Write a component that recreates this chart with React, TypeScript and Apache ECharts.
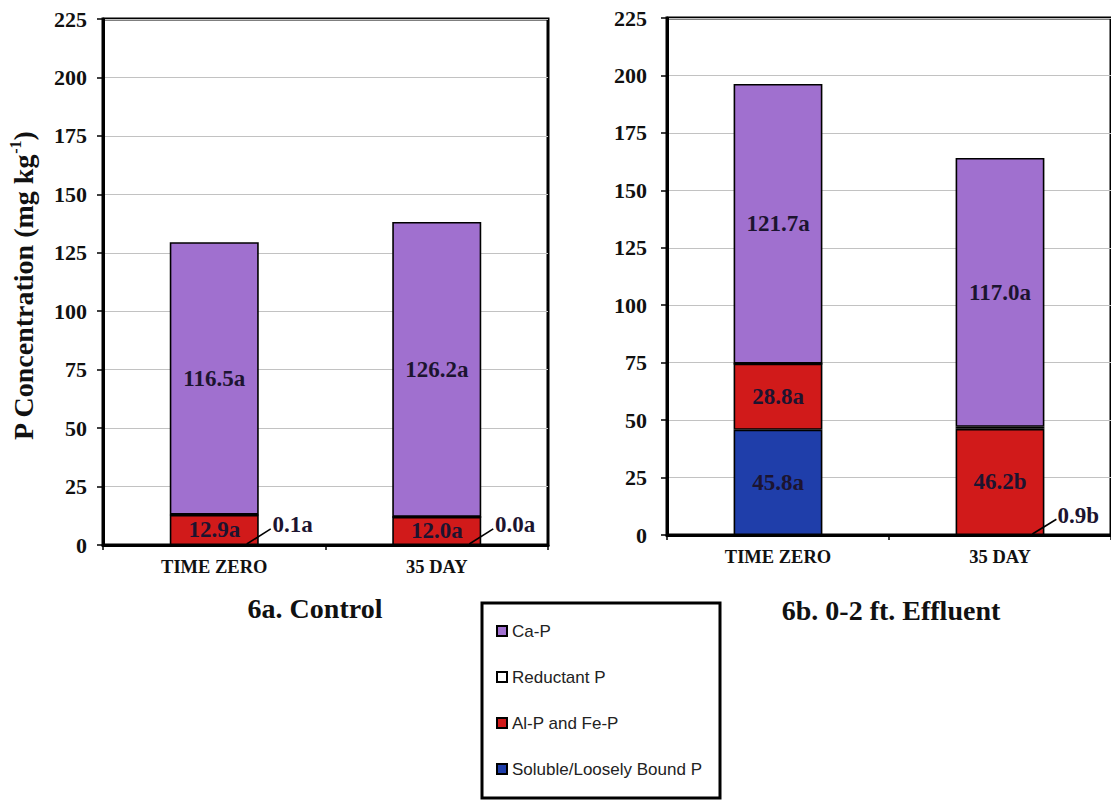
import React, { useEffect, useRef } from "react";
import * as echarts from "echarts";

// ---------- data ----------
const categories = ["TIME ZERO", "35 DAY"];
const seriesNames = ["Soluble/Loosely Bound P", "Al-P and Fe-P", "Reductant P", "Ca-P"];
const legendOrder = ["Ca-P", "Reductant P", "Al-P and Fe-P", "Soluble/Loosely Bound P"];

// 6a. Control
const controlSoluble = [0, 0];
const controlAlFe = [12.9, 12.0];
const controlReductant = [0.1, 0.0];
const controlCaP = [116.5, 126.2];
const controlSolubleSig = [null, null];
const controlAlFeSig = ["a", "a"];
const controlReductantSig = ["a", "a"];
const controlCaPSig = ["a", "a"];

// 6b. 0-2 ft. Effluent
const effluentSoluble = [45.8, 0];
const effluentAlFe = [28.8, 46.2];
const effluentReductant = [0, 0.9];
const effluentCaP = [121.7, 117.0];
const effluentSolubleSig = ["a", null];
const effluentAlFeSig = ["a", "b"];
const effluentReductantSig = [null, "b"];
const effluentCaPSig = ["a", "a"];

const yMin = 0;
const yMax = 225;
const yInterval = 25;

const panelTitles = ["6a. Control", "6b. 0-2 ft. Effluent"];
const yAxisTitle = "P Concentration (mg kg";

// ---------- styles ----------
const SERIF = "'Liberation Serif', 'Times New Roman', serif";
const SANS = "'Liberation Sans', Arial, sans-serif";
const colors: Record<string, string> = {
  "Soluble/Loosely Bound P": "#1f3eaa",
  "Al-P and Fe-P": "#d11a1a",
  "Reductant P": "#ffffff",
  "Ca-P": "#a070cf",
};
const labelColor = "#1c1430";
const reductantLabelLevel = 8.6;
const barRatio = 0.4;

export default function App() {
  const ref = useRef<HTMLDivElement>(null);

  useEffect(() => {
    if (!ref.current) return;
    const chart = echarts.init(ref.current, undefined, { renderer: "svg" });

    const panels = [
      {
        stack: "control",
        values: [controlSoluble, controlAlFe, controlReductant, controlCaP],
        sigs: [controlSolubleSig, controlAlFeSig, controlReductantSig, controlCaPSig],
      },
      {
        stack: "effluent",
        values: [effluentSoluble, effluentAlFe, effluentReductant, effluentCaP],
        sigs: [effluentSolubleSig, effluentAlFeSig, effluentReductantSig, effluentCaPSig],
      },
    ];

    const series: any[] = [];
    panels.forEach((panel, gi) => {
      seriesNames.forEach((name, si) => {
        const vals = panel.values[si];
        const sig = panel.sigs[si];
        const isReductant = name === "Reductant P";
        const s: any = {
          name,
          type: "bar",
          stack: panel.stack,
          xAxisIndex: gi,
          yAxisIndex: gi,
          barWidth: barRatio * 100 + "%",
          itemStyle: { color: colors[name], borderColor: "#000", borderWidth: 1.6 },
          emphasis: { disabled: true },
          data: vals.map((v, i) => ({
            value: v,
            label: { show: sig[i] != null },
          })),
          label: {
            position: isReductant ? "right" : "inside",
            color: labelColor,
            fontFamily: SERIF,
            fontWeight: "bold",
            fontSize: 23,
            formatter: (p: any) => {
              const g = sig[p.dataIndex];
              return g == null ? "" : Number(p.value).toFixed(1) + g;
            },
          },
        };
        if (isReductant) {
          s.labelLayout = (p: any) => {
            let y = p.rect.y + p.rect.height;
            try {
              const py = chart.convertToPixel({ yAxisIndex: gi } as any, reductantLabelLevel);
              if (typeof py === "number" && isFinite(py)) y = py;
            } catch (e) {}
            return {
              x: p.rect.x + p.rect.width + 13,
              y,
              align: "left",
              verticalAlign: "middle",
            };
          };
          // short leader line from the bar foot to the moved label
          const leaderData = vals
            .map((v, i) => (sig[i] != null ? [i, v] : null))
            .filter((d) => d != null);
          series.push({
            type: "custom",
            name: "leader",
            xAxisIndex: gi,
            yAxisIndex: gi,
            z: 5,
            silent: true,
            data: leaderData,
            renderItem: (params: any, api: any) => {
              const i = api.value(0);
              const base = api.coord([i, 0]);
              const lvl = api.coord([i, reductantLabelLevel]);
              const band = api.size([1, 0])[0];
              const right = base[0] + (band * barRatio) / 2;
              return {
                type: "line",
                shape: { x1: right - 12, y1: base[1] - 1, x2: right + 12, y2: lvl[1] + 4 },
                style: { stroke: "#000", lineWidth: 1.6 },
              };
            },
          });
        }
        series.push(s);
      });
    });

    const grids = [
      { left: 103, top: 19, width: 445, height: 526 },
      { left: 667, top: 18, width: 454, height: 517 },
    ];

    const option: any = {
      animation: false,
      backgroundColor: "#fff",
      grid: grids.map((g) => ({
        ...g,
        show: true,
        borderColor: "#000",
        borderWidth: 3,
        backgroundColor: "#fff",
        containLabel: false,
      })),
      xAxis: grids.map((_, gi) => ({
        type: "category",
        gridIndex: gi,
        data: categories,
        axisLine: { show: true, lineStyle: { color: "#000", width: 3 } },
        axisTick: { show: true, length: 5, lineStyle: { color: "#000", width: 1.5 } },
        axisLabel: {
          color: "#111",
          fontFamily: SERIF,
          fontWeight: "bold",
          fontSize: 18.5,
          margin: 12,
        },
      })),
      yAxis: grids.map((_, gi) => ({
        type: "value",
        gridIndex: gi,
        min: yMin,
        max: yMax,
        interval: yInterval,
        axisLine: { show: true, lineStyle: { color: "#000", width: 3 } },
        axisTick: { show: true, length: 6, lineStyle: { color: "#000", width: 1.5 } },
        axisLabel: {
          color: "#111",
          fontFamily: SERIF,
          fontWeight: "bold",
          fontSize: 22,
          margin: gi === 0 ? 16 : 20,
        },
        splitLine: { show: true, lineStyle: { color: "#c2c2c2", width: 1 } },
      })),
      legend: {
        orient: "vertical",
        left: 496,
        top: 622,
        padding: 0,
        data: legendOrder,
        selectedMode: false,
        icon: "rect",
        itemWidth: 10,
        itemHeight: 10,
        itemGap: 28,
        textStyle: { fontFamily: SANS, fontSize: 17, color: "#222", lineHeight: 18 },
      },
      graphic: [
        {
          type: "rect",
          shape: { x: 482, y: 603, width: 238, height: 195 },
          style: { fill: "transparent", stroke: "#000", lineWidth: 3 },
          z: 1,
        },
        {
          type: "text",
          x: 315,
          y: 608,
          style: {
            text: panelTitles[0],
            font: `bold 28px ${SERIF}`,
            fill: "#111",
            align: "center",
            verticalAlign: "middle",
          },
        },
        {
          type: "text",
          x: 891,
          y: 610,
          style: {
            text: panelTitles[1],
            font: `bold 28px ${SERIF}`,
            fill: "#111",
            align: "center",
            verticalAlign: "middle",
          },
        },
        {
          type: "text",
          x: 23,
          y: 286,
          rotation: Math.PI / 2,
          style: {
            text: `{a|${yAxisTitle}}{s|-1}{a|)}`,
            align: "center",
            verticalAlign: "middle",
            rich: {
              a: { fontFamily: SERIF, fontWeight: "bold", fontSize: 28, fill: "#111", lineHeight: 32 },
              s: { fontFamily: SERIF, fontWeight: "bold", fontSize: 16, fill: "#111", verticalAlign: "top", lineHeight: 32 },
            },
          },
        },
      ],
      series,
    };

    chart.setOption(option);
    return () => chart.dispose();
  }, []);

  return (
    <div
      ref={ref}
      style={{ position: "absolute", left: 0, top: 0, width: 1111, height: 800, background: "#fff" }}
    />
  );
}
